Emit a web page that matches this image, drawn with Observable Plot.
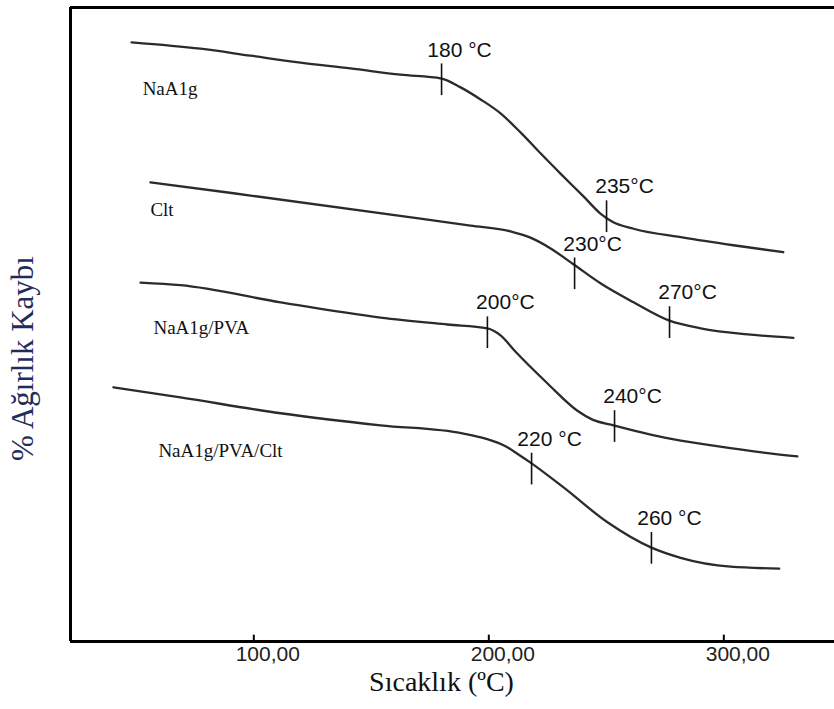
<!DOCTYPE html>
<html><head><meta charset="utf-8">
<script src="https://cdn.jsdelivr.net/npm/d3@7"></script>
<script src="https://cdn.jsdelivr.net/npm/@observablehq/plot@0.6"></script>
<style>html,body{margin:0;padding:0;background:#fff}</style>
</head><body><div id="chart"></div>
<script>
// x-axis ticks (°C)
const xTicks = [100, 200, 300];

// TGA curves (temperature °C, relative weight as drawn, curves offset vertically)
const naalgT = [48.0, 77.3, 98.6, 119.9, 141.1, 162.4, 179.9, 188.0, 196.5, 205.0, 213.5, 222.0, 230.5, 240.3, 247.5, 252.6, 261.6, 282.9, 304.1, 325.3];
const naalgW = [94.5, 93.5, 92.4, 91.3, 90.4, 89.4, 88.8, 87.4, 85.5, 83.3, 80.3, 77.0, 73.8, 70.2, 67.5, 66.2, 65.1, 63.7, 62.5, 61.4];

const cltT = [56.0, 91.4, 170.9, 192.2, 209.2, 217.7, 226.3, 236.0, 247.5, 261.6, 276.9, 290.1, 311.4, 329.6];
const cltW = [72.4, 70.7, 66.7, 65.6, 64.7, 63.7, 62.0, 59.5, 56.5, 53.5, 50.6, 49.4, 48.4, 47.9];

const pvaT = [51.8, 68.8, 111.4, 153.9, 182.4, 199.4, 205.0, 211.4, 225.0, 237.7, 244.1, 253.1, 274.3, 295.6, 316.9, 331.3];
const pvaW = [56.6, 56.2, 53.5, 51.1, 50.0, 49.4, 48.3, 45.7, 40.7, 36.4, 35.0, 34.1, 32.2, 30.9, 29.8, 29.2];

const pvaCltT = [40.3, 68.8, 111.4, 153.9, 189.2, 198.6, 207.1, 212.6, 218.2, 231.8, 250.5, 269.2, 281.6, 302.8, 323.6];
const pvaCltW = [40.1, 38.5, 36.0, 34.1, 32.8, 32.0, 30.8, 29.5, 28.1, 24.3, 18.8, 14.8, 13.2, 11.8, 11.5];

// series names and label anchor points
const seriesNames = ["NaA1g", "Clt", "NaA1g/PVA", "NaA1g/PVA/Clt"];
const seriesLabelT = [52.7, 56.0, 57.3, 59.4];
const seriesLabelW = [87.2, 68.0, 49.4, 30.0];

// marked temperatures on the curves
const markerLabels = ["180 °C", "235°C", "230°C", "270°C", "200°C", "240°C", "220 °C", "260 °C"];
const markerT = [179.9, 250.1, 236.5, 276.9, 199.4, 253.5, 218.2, 269.2];
const markerW = [88.6, 67.0, 58.0, 50.3, 48.7, 33.9, 27.2, 14.7];

const seriesT = [naalgT, cltT, pvaT, pvaCltT];
const seriesW = [naalgW, cltW, pvaW, pvaCltW];
const rows = [];
seriesNames.forEach((name, s) => seriesT[s].forEach((t, i) => rows.push({series: name, t, w: seriesW[s][i]})));
const markers = markerT.map((t, i) => ({t, w: markerW[i], label: markerLabels[i]}));
const seriesLabels = seriesNames.map((name, i) => ({name, t: seriesLabelT[i], w: seriesLabelW[i]}));

const serif = "'Liberation Serif', 'Times New Roman', serif";
const sans = "'Liberation Sans', Arial, sans-serif";
const HALF = 2.5;

const chart = Plot.plot({
  width: 834, height: 709,
  marginLeft: 70, marginRight: 0, marginTop: 7, marginBottom: 68,
  x: {domain: [22, 347.1], axis: null},
  y: {domain: [0, 100], axis: null},
  style: {background: "white"},
  marks: [
    Plot.line(rows, {x: "t", y: "w", z: "series", stroke: "#2b2b2b", strokeWidth: 2.3, curve: "monotone-x"}),
    Plot.ruleX(markers, {x: "t", y1: d => d.w - HALF, y2: d => d.w + HALF, stroke: "#111", strokeWidth: 1.6}),
    Plot.text(markers, {x: "t", y: "w", text: "label", dx: 18, dy: -30, fontSize: 21, fontFamily: sans, fill: "#111", ariaLabel: "marker-label"}),
    Plot.text(seriesLabels, {x: "t", y: "w", text: "name", textAnchor: "start", fontSize: 19, fontFamily: serif, fill: "#111", ariaLabel: "series-label"}),
    Plot.ruleX(xTicks, {x: d => d, y1: 0, y2: 1, stroke: "#000", strokeWidth: 2}),
    Plot.text(xTicks, {x: d => d, frameAnchor: "bottom", dy: 19, dx: 14, text: d => d.toFixed(2).replace(".", ","), fontSize: 21, fontFamily: sans, fill: "#222", ariaLabel: "tick-label"}),
    Plot.ruleY([0, 100], {stroke: "#000", strokeWidth: 3}),
    Plot.ruleX([22], {stroke: "#000", strokeWidth: 3}),
    Plot.text(["Sıcaklık (ºC)"], {frameAnchor: "bottom", textAnchor: "middle", dy: 49, dx: -11, fontSize: 28, fontFamily: serif, fill: "#111"}),
    Plot.text(["% Ağırlık Kaybı"], {frameAnchor: "left", textAnchor: "middle", rotate: -90, dx: -47, dy: 34, fontSize: 31, fontFamily: serif, fill: "#1f2d5c"})
  ]
});
document.getElementById("chart").appendChild(chart);
d3.select(chart).selectAll('g[aria-label="series-label"] text').style("letter-spacing", "1.8px");
d3.select(chart).selectAll('g[aria-label="marker-label"] text').style("letter-spacing", "1px");
d3.select(chart).selectAll('g[aria-label="tick-label"] text').style("letter-spacing", "1px");
</script>
</body></html>
